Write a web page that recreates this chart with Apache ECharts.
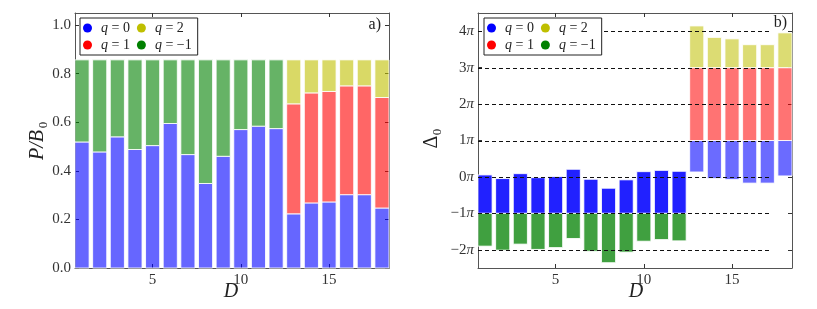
<!DOCTYPE html>
<html><head><meta charset="utf-8">
<script src="https://cdn.jsdelivr.net/npm/echarts@6/dist/echarts.min.js"></script>
<style>html,body{margin:0;padding:0;background:#fff}#c{width:817px;height:309px}</style>
</head><body><div id="c"></div>
<script>
// ---------- data ----------
const D = [1,2,3,4,5,6,7,8,9,10,11,12,13,14,15,16,17,18];
// panel a) P/B0 stacked shares
const P_q0  = [0.519,0.478,0.540,0.488,0.504,0.595,0.467,0.348,0.460,0.570,0.584,0.574,0.223,0.268,0.272,0.302,0.302,0.247];
const P_q1  = [0,0,0,0,0,0,0,0,0,0,0,0,0.453,0.453,0.455,0.448,0.448,0.455];
const P_q2  = [0,0,0,0,0,0,0,0,0,0,0,0,0.181,0.136,0.130,0.107,0.107,0.155];
const P_qm1 = [0.338,0.379,0.317,0.369,0.353,0.262,0.390,0.509,0.397,0.287,0.273,0.283,0,0,0,0,0,0];
const P_ticks = [0,0.2,0.4,0.6,0.8,1.0];
// panel b) Delta0 ranges (in units of pi)
const Dl_q0_low   = [-1,-1,-1,-1,-1,-1,-1,-1,-1,-1,-1,-1,0.136,-0.045,-0.073,-0.17,-0.17,0.027];
const Dl_q0_high  = [0.055,-0.045,0.09,-0.02,0.01,0.21,-0.064,-0.31,-0.08,0.145,0.18,0.155,1,1,1,1,1,1];
const Dl_qm1_low  = [-1.9,-2.01,-1.845,-1.99,-1.94,-1.69,-2.04,-2.355,-2.065,-1.765,-1.72,-1.755,null,null,null,null,null,null];
const Dl_qm1_high = [-1,-1,-1,-1,-1,-1,-1,-1,-1,-1,-1,-1,null,null,null,null,null,null];
const Dl_q1_low   = [null,null,null,null,null,null,null,null,null,null,null,null,1,1,1,1,1,1];
const Dl_q1_high  = [null,null,null,null,null,null,null,null,null,null,null,null,3,3,3,3,3,3];
const Dl_q2_low   = [null,null,null,null,null,null,null,null,null,null,null,null,3,3,3,3,3,3];
const Dl_q2_high  = [null,null,null,null,null,null,null,null,null,null,null,null,4.145,3.83,3.79,3.63,3.63,3.955];
const Dl_ticks = [-2,-1,0,1,2,3,4];
const Dl_refLines = [-2,-1,0,1,2,3,4];
const xTicks = [5,10,15];
const names = ['q = 0','q = 1','q = 2','q = −1'];

// ---------- styling ----------
const FONT = "'Liberation Serif','DejaVu Serif',serif";
const TXT = '#333';
const X_MIN = 0.6, X_MAX = 18.4, HALF = 0.4, REF_END = 17.25;
const RGB = {'q = 0':'0,0,255','q = 1':'255,0,0','q = 2':'191,191,0','q = −1':'0,128,0'};
const SOLID = {'q = 0':'#0000ff','q = 1':'#ff0000','q = 2':'#bfbf00','q = −1':'#008000'};
function leftAlpha(){ return 0.6; }
function rightAlpha(name, d){
  if (name === 'q = 0') return d <= 12 ? 0.87 : 0.58;
  if (name === 'q = −1') return 0.75;
  return 0.55;
}

function barRenderer(name, alphaFn){
  return function(params, api){
    const x = api.value(0), lo = api.value(1), hi = api.value(2);
    const p1 = api.coord([x - HALF, hi]);
    const p2 = api.coord([x + HALF, lo]);
    return {type:'rect',
      shape:{x:p1[0], y:p1[1], width:p2[0]-p1[0], height:p2[1]-p1[1]},
      style:{fill:'rgba(' + RGB[name] + ',' + alphaFn(name, x) + ')', stroke:'rgba(255,255,255,0.85)', lineWidth:1}};
  };
}

// build left stacked series
const leftVals = [P_q0, P_q1, P_q2, P_qm1];
let base = D.map(() => 0);
const series = [];
leftVals.forEach((vals, k) => {
  const data = [];
  D.forEach((d, i) => {
    if (vals[i] > 0) data.push([d, base[i], base[i] + vals[i]]);
    base[i] += vals[i];
  });
  series.push({type:'custom', name:names[k], xAxisIndex:0, yAxisIndex:0,
    itemStyle:{color:SOLID[names[k]]}, encode:{x:0, y:[1,2]},
    renderItem:barRenderer(names[k], leftAlpha), data:data, silent:true});
});
// right floating series
const rightRanges = [[Dl_q0_low,Dl_q0_high],[Dl_q1_low,Dl_q1_high],[Dl_q2_low,Dl_q2_high],[Dl_qm1_low,Dl_qm1_high]];
rightRanges.forEach((r, k) => {
  const data = [];
  D.forEach((d, i) => { if (r[0][i] != null) data.push([d, r[0][i], r[1][i]]); });
  series.push({type:'custom', name:names[k], xAxisIndex:2, yAxisIndex:2,
    itemStyle:{color:SOLID[names[k]]}, encode:{x:0, y:[1,2]},
    renderItem:barRenderer(names[k], rightAlpha), data:data, silent:true});
});
// dashed reference lines
series.push({type:'custom', name:'ref', xAxisIndex:2, yAxisIndex:2, z:3, silent:true,
  encode:{x:[0,1], y:2},
  data: Dl_refLines.map(v => [X_MIN, REF_END, v]),
  renderItem: function(params, api){
    const a = api.coord([api.value(0), api.value(2)]);
    const b = api.coord([api.value(1), api.value(2)]);
    return {type:'line', shape:{x1:a[0], y1:Math.round(a[1])+0.5, x2:b[0], y2:Math.round(b[1])+0.5},
      style:{stroke:'#111', lineWidth:1, lineDash:[4,3]}};
  }});

const axisLine = {onZero:false, lineStyle:{color:'#555', width:1}};
function xAx(grid, pos, labels){
  return {type:'value', gridIndex:grid, position:pos, min:X_MIN, max:X_MAX,
    axisLine:axisLine, splitLine:{show:false},
    axisTick:{show:true, inside:true, length:4, customValues:xTicks, lineStyle:{color:'#333'}},
    axisLabel:{show:labels, customValues:xTicks, fontFamily:FONT, fontSize:15, color:TXT, margin:5}};
}
function yAx(grid, pos, labels, min, max, ticks, fmt, rich){
  return {type:'value', gridIndex:grid, position:pos, min:min, max:max,
    axisLine:axisLine, splitLine:{show:false},
    axisTick:{show:true, inside:true, length:4, customValues:ticks, lineStyle:{color:'#333'}},
    axisLabel:{show:labels, customValues:ticks, fontFamily:FONT, fontSize:15, color:TXT, margin:4, formatter:fmt, rich:rich}};
}
const piRich = {n:{fontFamily:FONT, fontSize:15, color:TXT}, p:{fontFamily:FONT, fontSize:15, fontStyle:'italic', color:TXT}};
const piFmt = v => '{n|' + (v < 0 ? '−' + Math.abs(v) : v) + '}{p|π}';

function legend(left){
  return {left:left, top:18, orient:'horizontal', width:125, itemGap:3, itemWidth:9, itemHeight:9,
    icon:'circle', padding:[3,2,3,3], borderColor:'#222', borderWidth:1, backgroundColor:'#fff',
    selectedMode:false, data:['q = 0','q = 2','q = 1','q = −1'],
    formatter: n => '{i|q}{n|' + n.slice(1) + '}',
    textStyle:{padding:[0,4,0,4], lineHeight:13, rich:{
      i:{fontFamily:FONT, fontSize:14, fontStyle:'italic', color:'#222', lineHeight:13},
      n:{fontFamily:FONT, fontSize:14, color:'#222', lineHeight:13}}}};
}

function rotText(x, y, text, font){
  return {type:'text', x:x, y:y, rotation:Math.PI/2,
    style:{text:text, font:font, fill:'#222', align:'center', verticalAlign:'middle'}};
}

const chart = echarts.init(document.getElementById('c'), null, {renderer:'canvas'});
chart.setOption({
  animation:false,
  backgroundColor:'#fff',
  grid:[{left:75, top:13, width:314, height:255, containLabel:false, outerBoundsMode:'none'},
        {left:478, top:13, width:314, height:255, containLabel:false, outerBoundsMode:'none'}],
  xAxis:[xAx(0,'bottom',true), xAx(0,'top',false), xAx(1,'bottom',true), xAx(1,'top',false)],
  yAxis:[yAx(0,'left',true,0,1.05,P_ticks,v=>v.toFixed(1)), yAx(0,'right',false,0,1.05,P_ticks),
         yAx(1,'left',true,-2.5,4.5,Dl_ticks,piFmt,piRich), yAx(1,'right',false,-2.5,4.5,Dl_ticks)],
  legend:[legend(80), legend(484)],
  series:series,
  graphic:[
    rotText(38, 145, 'P/B', 'italic 20px ' + FONT),
    rotText(44, 125, '0', '13px ' + FONT),
    rotText(432, 142, 'Δ', '20px ' + FONT),
    rotText(438, 132, '0', '13px ' + FONT),
    {type:'text', x:231, y:292, style:{text:'D', font:'italic 20px ' + FONT, fill:'#222', align:'center', verticalAlign:'middle'}},
    {type:'text', x:636, y:292, style:{text:'D', font:'italic 20px ' + FONT, fill:'#222', align:'center', verticalAlign:'middle'}},
    {type:'text', x:381, y:25, style:{text:'a)', font:'16px ' + FONT, fill:'#222', align:'right', verticalAlign:'middle'}},
    {type:'text', x:787, y:23, style:{text:'b)', font:'16px ' + FONT, fill:'#222', align:'right', verticalAlign:'middle'}}
  ]
});
</script></body></html>
